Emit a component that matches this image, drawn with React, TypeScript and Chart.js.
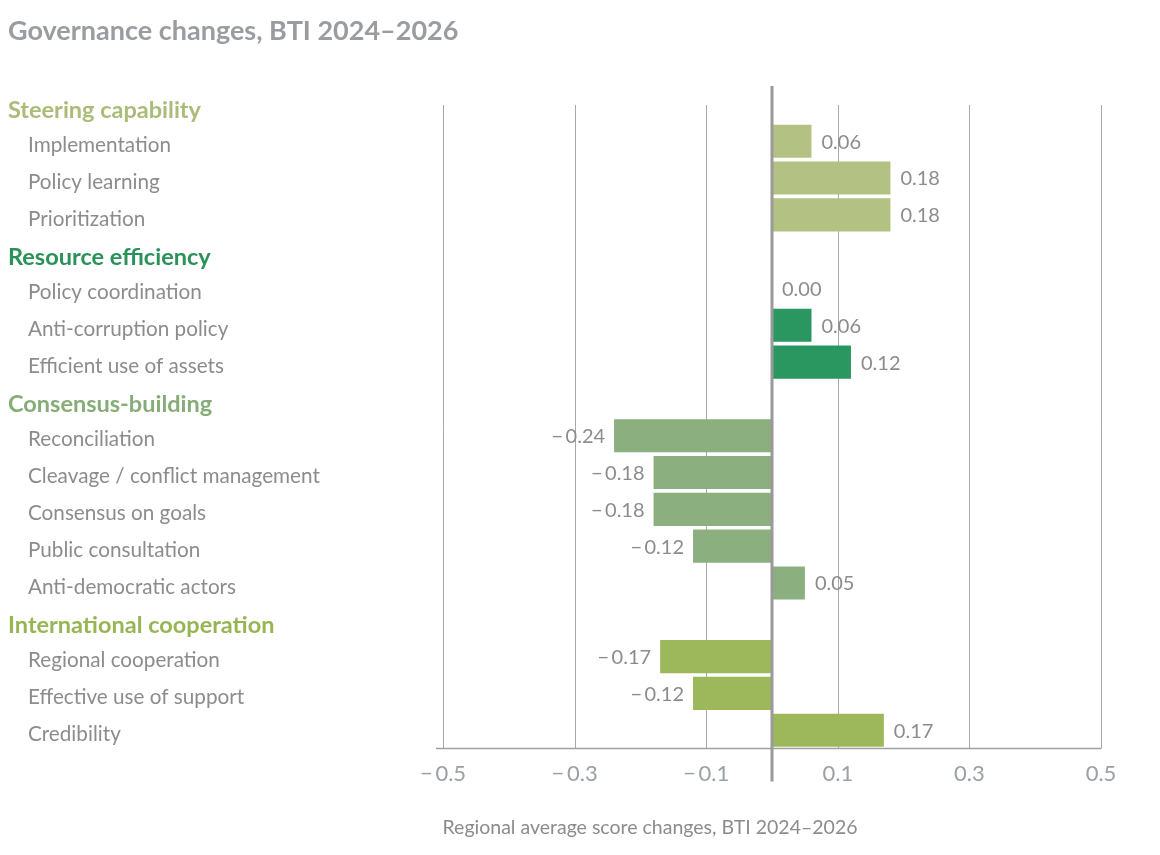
import React, { useEffect, useRef } from "react";
import { Chart, registerables } from "chart.js";

Chart.register(...registerables);

const TITLE = "Governance changes, BTI 2024–2026";
const X_TITLE = "Regional average score changes, BTI 2024–2026";

const ROW_LABELS = [
  "Steering capability",
  "Implementation",
  "Policy learning",
  "Prioritization",
  "Resource efficiency",
  "Policy coordination",
  "Anti-corruption policy",
  "Efficient use of assets",
  "Consensus-building",
  "Reconciliation",
  "Cleavage / conflict management",
  "Consensus on goals",
  "Public consultation",
  "Anti-democratic actors",
  "International cooperation",
  "Regional cooperation",
  "Effective use of support",
  "Credibility",
];

const ROW_GROUP = [0, 0, 0, 0, 1, 1, 1, 1, 2, 2, 2, 2, 2, 2, 3, 3, 3, 3];
const IS_HEADER = [true, false, false, false, true, false, false, false, true, false, false, false, false, false, true, false, false, false];

const VALUES: (number | null)[] = [
  null, 0.06, 0.18, 0.18,
  null, 0.0, 0.06, 0.12,
  null, -0.24, -0.18, -0.18, -0.12, 0.05,
  null, -0.17, -0.12, 0.17,
];

const X_TICKS = [-0.5, -0.3, -0.1, 0.1, 0.3, 0.5];

const GROUP_BAR_COLORS = ["#b3c183", "#2a9660", "#8baf7f", "#9cb85b"];
const GROUP_TEXT_COLORS = ["#aabc78", "#2a9258", "#86ad78", "#97b553"];

const FONT = "Lato, 'Noto Sans', sans-serif";
const GRAY_TEXT = "#8c8c8c";
const AXIS_TEXT = "#9aa0a6";

const fmt = (v: number) => (v < 0 ? "\u2212\u2009" + Math.abs(v).toFixed(2) : v.toFixed(2));
const fmtTick = (v: number) => (v < 0 ? "\u2212\u2009" + Math.abs(v).toFixed(1) : v.toFixed(1));

const gridPlugin = {
  id: "customGrid",
  beforeDatasetsDraw(chart: any) {
    const { ctx, chartArea, scales } = chart;
    const x = scales.x;
    ctx.save();
    ctx.strokeStyle = "#a8a8a8";
    ctx.lineWidth = 1;
    X_TICKS.forEach((t) => {
      const px = Math.round(x.getPixelForValue(t)) + 0.5;
      ctx.beginPath();
      ctx.moveTo(px, chartArea.top + 19);
      ctx.lineTo(px, chartArea.bottom);
      ctx.stroke();
    });
    ctx.strokeStyle = "#a0a0a0";
    ctx.lineWidth = 1.5;
    ctx.beginPath();
    ctx.moveTo(x.getPixelForValue(-0.5) - 7, chartArea.bottom);
    ctx.lineTo(x.getPixelForValue(0.5), chartArea.bottom);
    ctx.stroke();
    ctx.restore();
  },
};

const overlayPlugin = {
  id: "overlay",
  afterDatasetsDraw(chart: any) {
    const { ctx, chartArea, scales } = chart;
    const x = scales.x;
    const y = scales.y;
    ctx.save();
    ctx.textAlign = "left";
    ctx.textBaseline = "middle";
    // title
    ctx.fillStyle = "#999ca0";
    ctx.font = `bold 27px ${FONT}`;
    ctx.fillText(TITLE, 0, 23);

    // row labels
    ROW_LABELS.forEach((label, i) => {
      const py = y.getPixelForValue(i);
      if (IS_HEADER[i]) {
        ctx.font = `bold 23.5px ${FONT}`;
        ctx.fillStyle = GROUP_TEXT_COLORS[ROW_GROUP[i]];
        ctx.fillText(label, 0, py + 6);
      } else {
        ctx.font = `20.7px ${FONT}`;
        ctx.fillStyle = GRAY_TEXT;
        ctx.fillText(label, 20, py + 4);
      }
    });

    // x axis title
    ctx.font = `19.5px ${FONT}`;
    ctx.fillStyle = GRAY_TEXT;
    ctx.textAlign = "center";
    ctx.fillText(X_TITLE, 642, 820);

    // zero line
    const x0 = x.getPixelForValue(0);
    ctx.strokeStyle = "#9a9a9a";
    ctx.lineWidth = 3;
    ctx.beginPath();
    ctx.moveTo(x0, chartArea.top);
    ctx.lineTo(x0, chartArea.bottom + 33);
    ctx.stroke();

    // data labels
    const meta = chart.getDatasetMeta(0);
    ctx.font = `20px ${FONT}`;
    ctx.fillStyle = GRAY_TEXT;
    meta.data.forEach((bar: any, i: number) => {
      const v = VALUES[i];
      if (v === null || v === undefined) return;
      if (v < 0) {
        ctx.textAlign = "right";
        ctx.fillText(fmt(v), bar.x - 9, bar.y + 1);
      } else {
        ctx.textAlign = "left";
        ctx.fillText(fmt(v), Math.max(bar.x, x0) + 10, bar.y + 1);
      }
    });
    ctx.restore();
  },
};

export default function App() {
  const ref = useRef<HTMLCanvasElement | null>(null);
  useEffect(() => {
    if (!ref.current) return;
    const chart = new Chart(ref.current, {
      type: "bar",
      data: {
        labels: ROW_LABELS,
        datasets: [
          {
            data: VALUES as any,
            backgroundColor: ROW_GROUP.map((g) => GROUP_BAR_COLORS[g]),
            borderWidth: 0,
            barPercentage: 0.9,
            categoryPercentage: 1,
          },
        ],
      },
      plugins: [gridPlugin, overlayPlugin],
      options: {
        indexAxis: "y",
        animation: false,
        responsive: false,
        layout: { padding: { left: 435, right: 51, top: 78, bottom: 48 } },
        plugins: {
          legend: { display: false },
          tooltip: { enabled: false },
          title: { display: false },
        },
        scales: {
          y: { display: false },
          x: {
            min: -0.5,
            max: 0.5,
            afterBuildTicks: (scale: any) => {
              scale.ticks = X_TICKS.map((v) => ({ value: v }));
            },
            grid: { display: false, drawTicks: false },
            border: { display: false },
            ticks: {
              padding: 12,
              color: AXIS_TEXT,
              font: { family: FONT, size: 22 },
              callback: (v: any) => fmtTick(Number(v)),
            },
          },
        },
      } as any,
    });
    return () => chart.destroy();
  }, []);
  return (
    <div style={{ width: 1144, height: 839 }}>
      <canvas ref={ref} width={1144} height={839} style={{ width: 1144, height: 839, display: "block" }} />
    </div>
  );
}
